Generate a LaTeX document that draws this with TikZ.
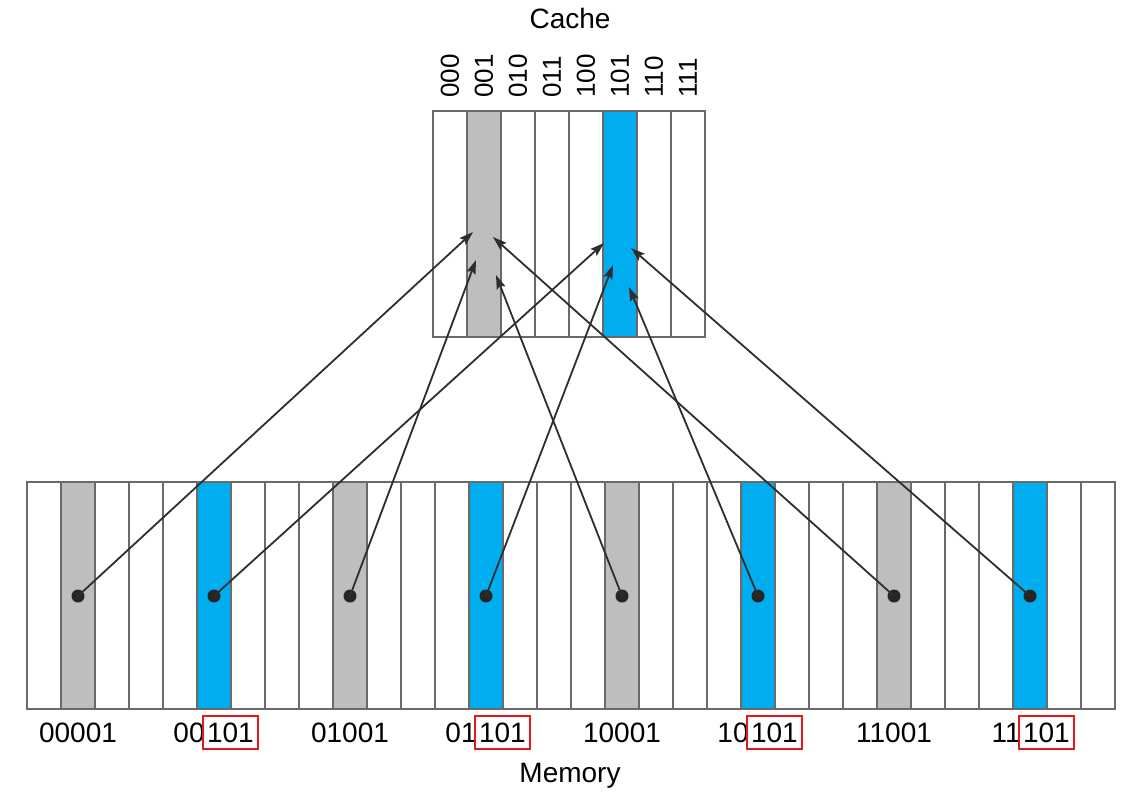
\documentclass[tikz,border=0pt]{standalone}
\usepackage{fontspec}
\setmainfont{Liberation Sans}
\usepackage{xcolor}
\usetikzlibrary{arrows.meta,positioning,calc}
\definecolor{slotgray}{HTML}{BEBEC0}
\definecolor{slotblue}{HTML}{00AEEF}
\definecolor{tagred}{HTML}{E3191C}
\definecolor{gridline}{HTML}{6A6A6A}
\definecolor{linkcol}{HTML}{2E2E2E}
\tikzset{
  cell/.style   ={draw=gridline,line width=0.8pt,inner sep=0pt,minimum width=17pt},
  ccell/.style  ={cell,minimum height=113pt},
  mcell/.style  ={cell,minimum height=113.5pt},
  g/.style      ={fill=slotgray},
  b/.style      ={fill=slotblue},
  dot/.style    ={circle,fill=black!85,minimum size=6.5pt,inner sep=0pt},
  link/.style   ={linkcol,line width=0.9pt,-{Stealth[length=7pt,width=4.6pt,inset=1.2pt]}},
  lbl/.style    ={inner sep=0pt,font=\fontsize{14}{16}\selectfont},
  bits/.style   ={inner sep=0pt,font=\fontsize{13}{15}\selectfont,rotate=90,anchor=west},
  tagbox/.style ={lbl,draw=tagred,line width=1pt,inner xsep=2pt,inner ysep=3.3pt},
}
\begin{document}
\begin{tikzpicture}[x=0.5pt,y=-0.5pt]
  \useasboundingbox (0,0) rectangle (1140,798);
  % cache lines
  \foreach \i/\b in {0/000,1/001,2/010,3/011,4/100,5/101,6/110,7/111}{
     \node[ccell] (cc\i) at ({450+34*\i},224) {};
     \node[bits] (bit\i) at ({450+34*\i},98) {\b};
  }
  \node[ccell,g] at (cc1) {};
  \node[ccell,b] at (cc5) {};
  \node[lbl,anchor=base] (cache) at (570,28) {Cache};
  % memory blocks
  \foreach \i in {0,...,31}{
     \node[mcell] (mc\i) at ({44+34*\i},595.5) {};
  }
  \foreach \i/\s in {1/g,5/b,9/g,13/b,17/g,21/b,25/g,29/b}{
     \node[mcell,\s] at (mc\i) {};
  }
  \node[lbl,anchor=base] (memory) at (570,782) {Memory};
  % addresses
  \foreach \x/\a in {78/00001,350/01001,622/10001,894/11001}{
     \node[lbl,anchor=base] (addr\x) at (\x,742) {\a};
  }
  \foreach \x/\hi in {214/00,486/01,758/10,1030/11}{
     \node[lbl,anchor=base east] (addr\x) at ({\x-9},742) {\hi};
     \node[tagbox,anchor=base west] (tag\x) at ([xshift=-1.5pt]addr\x.base east) {101};
  }
  % arrow tips inside the cache
  \coordinate (tip1) at (473,232);
  \coordinate (tip2) at (604,243);
  \coordinate (tip3) at (476,260);
  \coordinate (tip4) at (613,265);
  \coordinate (tip5) at (496,275);
  \coordinate (tip6) at (629,287);
  \coordinate (tip7) at (493,237);
  \coordinate (tip8) at (631,248);
  \foreach \k/\x in {1/78,2/214,3/350,4/486,5/622,6/758,7/894,8/1030}{
     \node[dot] (dot\k) at (\x,596) {};
     \draw[link] (dot\k.center) -- (tip\k);
  }
\end{tikzpicture}
\end{document}
